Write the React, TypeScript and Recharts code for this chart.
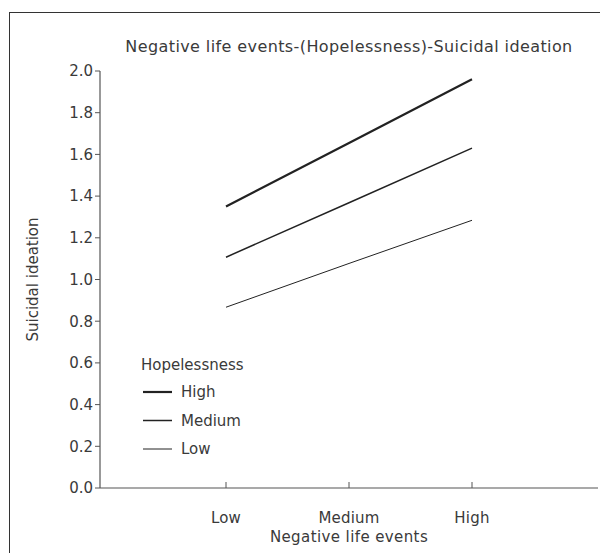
import React from 'react';
import { LineChart, Line, XAxis, YAxis, Customized } from 'recharts';

const categories = ['Low', 'Medium', 'High'];
const highHopelessness = [1.35, 1.655, 1.96];
const mediumHopelessness = [1.107, 1.368, 1.63];
const lowHopelessness = [0.867, 1.077, 1.284];
const yTicks = [0, 0.2, 0.4, 0.6, 0.8, 1.0, 1.2, 1.4, 1.6, 1.8, 2.0];
const seriesNames = ['High', 'Medium', 'Low'];
const legendTitle = 'Hopelessness';
const titleText = 'Negative life events-(Hopelessness)-Suicidal ideation';

const data = categories.map((c, i) => ({
  name: c,
  High: highHopelessness[i],
  Medium: mediumHopelessness[i],
  Low: lowHopelessness[i],
}));

const FONT = '"DejaVu Sans", sans-serif';
const TEXT = '#3a3a3a';
const LINE = '#222';
const widths: Record<string, number> = { High: 2.2, Medium: 1.5, Low: 1 };

const XTick = (props: any) => {
  const { x, y, payload } = props;
  return (
    <g>
      <line x1={x} x2={x} y1={y - 24} y2={y - 30} stroke="#555" strokeWidth={1} />
      <text x={x} y={y} dy="0.71em" textAnchor="middle" fontSize={15} fill={TEXT} fontFamily={FONT} letterSpacing={0.2}>
        {payload.value}
      </text>
    </g>
  );
};

const Overlay = () => (
  <g fontFamily={FONT} fontSize={15} fill={TEXT}>
    <text x={341} y={38} textAnchor="middle" dominantBaseline="central" fontSize={16} letterSpacing={0.4}>
      {titleText}
    </text>
    <text x={133} y={357} dominantBaseline="central">
      {legendTitle}
    </text>
    {seriesNames.map((n, i) => {
      const cy = 384 + i * 28.5;
      return (
        <g key={n}>
          <line x1={135} x2={164} y1={cy} y2={cy} stroke={LINE} strokeWidth={widths[n]} />
          <text x={173} y={cy} dominantBaseline="central">
            {n}
          </text>
        </g>
      );
    })}
  </g>
);

export default function App() {
  return (
    <div style={{ position: 'relative', width: 600, height: 545 }}>
      <div
        style={{
          position: 'absolute',
          left: 1,
          top: 4,
          width: 599,
          height: 541,
          borderTop: '1px solid #333',
          borderLeft: '1px solid #333',
          pointerEvents: 'none',
        }}
      />
      <LineChart width={600} height={545} data={data} margin={{ top: 63, right: 10, bottom: 0, left: 32 }}>
        <XAxis
          dataKey="name"
          padding={{ left: 126, right: 126 }}
          height={65}
          interval={0}
          tickSize={0}
          tickMargin={24}
          tick={<XTick />}
          axisLine={{ stroke: '#555', strokeWidth: 1.2 }}
          tickLine={false}
          label={{
            content: (p: any) => {
              const vb = p.viewBox;
              return (
                <text
                  x={vb.x + vb.width / 2}
                  y={vb.y + 54}
                  textAnchor="middle"
                  fontSize={15}
                  fill={TEXT}
                  fontFamily={FONT}
                  letterSpacing={0.4}
                >
                  Negative life events
                </text>
              );
            },
          }}
        />
        <YAxis
          width={60}
          domain={[0, 2]}
          ticks={yTicks}
          interval={0}
          tickFormatter={(v: number) => v.toFixed(1)}
          tickSize={5}
          tickMargin={2}
          tick={{ fontSize: 15, fill: TEXT, fontFamily: FONT }}
          axisLine={{ stroke: '#555', strokeWidth: 1.2 }}
          tickLine={{ stroke: '#555' }}
          label={{
            content: (p: any) => {
              const vb = p.viewBox;
              const cx = vb.x - 7;
              const cy = vb.y + vb.height / 2;
              return (
                <text
                  x={cx}
                  y={cy}
                  transform={`rotate(-90 ${cx} ${cy})`}
                  textAnchor="middle"
                  dominantBaseline="central"
                  fontSize={15}
                  fill={TEXT}
                  fontFamily={FONT}
                >
                  Suicidal ideation
                </text>
              );
            },
          }}
        />
        <Customized component={Overlay} />
        {seriesNames.map((n) => (
          <Line
            key={n}
            dataKey={n}
            stroke={LINE}
            strokeWidth={widths[n]}
            dot={false}
            activeDot={false}
            isAnimationActive={false}
          />
        ))}
      </LineChart>
    </div>
  );
}
